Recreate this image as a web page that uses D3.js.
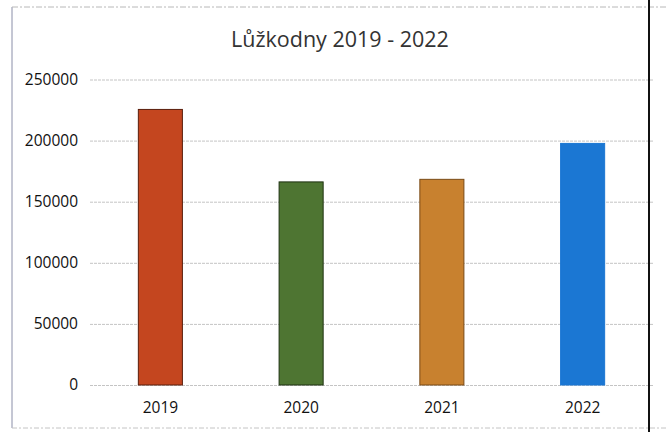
<!DOCTYPE html>
<html>
<head>
<meta charset="utf-8">
<script src="https://cdn.jsdelivr.net/npm/d3@7/dist/d3.min.js"></script>
<style>
  html, body { margin: 0; padding: 0; background: #fff; }
  svg { display: block; }
</style>
</head>
<body>
<svg id="chart" width="666" height="432"></svg>
<script>
const title = "Lůžkodny 2019 - 2022";
const categories = ["2019", "2020", "2021", "2022"];
const values = [225500, 166200, 168300, 197700];
const barColors = ["#c4461f", "#4e7532", "#c8812f", "#1b77d3"];
const barStrokes = ["#5a1e0c", "#1f3312", "#7a4a16", "#1b77d3"];
const yTicks = [0, 50000, 100000, 150000, 200000, 250000];

const svg = d3.select("#chart");
const font = "'Open Sans', 'Liberation Sans', sans-serif";

const x = d3.scaleBand().domain(categories).range([90, 653]).padding(0);
const y = d3.scaleLinear().domain([0, 250000]).range([385, 79.5]);
const barW = x.bandwidth() * 0.313;

// frame
svg.append("line").attr("x1", 12).attr("x2", 12).attr("y1", 7).attr("y2", 428)
  .attr("stroke", "#8a8ea8").attr("stroke-width", 1);
svg.append("line").attr("x1", 12).attr("x2", 666).attr("y1", 7).attr("y2", 7)
  .attr("stroke", "#b8b8b8").attr("stroke-width", 1).attr("stroke-dasharray", "6,2,2,2");
svg.append("line").attr("x1", 12).attr("x2", 666).attr("y1", 428).attr("y2", 428)
  .attr("stroke", "#c4c4c4").attr("stroke-width", 1).attr("stroke-dasharray", "5,2,2,2");

// title
svg.append("text").attr("x", 340).attr("y", 47).attr("text-anchor", "middle")
  .attr("font-family", font).attr("font-size", 21.5).attr("fill", "#333")
  .text(title);

// grid + y axis
const yAxis = d3.axisLeft(y).tickValues(yTicks).tickSize(-(653 - 90)).tickPadding(12)
  .tickFormat(d3.format("d"));
const gy = svg.append("g").attr("transform", "translate(90,0)").call(yAxis);
gy.select(".domain").remove();
gy.selectAll(".tick line").attr("stroke", "#c4c4c4").attr("stroke-width", 1).attr("stroke-dasharray", "3,1");
gy.selectAll(".tick text").attr("font-family", font).attr("font-size", 15.5).attr("fill", "#111");

// bars
svg.append("g").selectAll("rect").data(categories).join("rect")
  .attr("x", (d) => x(d) + x.bandwidth() / 2 - barW / 2)
  .attr("width", barW)
  .attr("y", (d, i) => y(values[i]))
  .attr("height", (d, i) => y(0) - y(values[i]))
  .attr("fill", (d, i) => barColors[i])
  .attr("stroke", (d, i) => barStrokes[i])
  .attr("stroke-width", 1);

// x axis labels
const xAxis = d3.axisBottom(x).tickSize(0).tickPadding(17);
const gx = svg.append("g").attr("transform", "translate(0,385)").call(xAxis);
gx.select(".domain").remove();
gx.selectAll(".tick text").attr("font-family", font).attr("font-size", 15.5).attr("fill", "#111");

// dark scan edge
svg.append("line").attr("x1", 649).attr("x2", 649).attr("y1", 0).attr("y2", 432)
  .attr("stroke", "#111").attr("stroke-width", 2);
</script>
</body>
</html>
